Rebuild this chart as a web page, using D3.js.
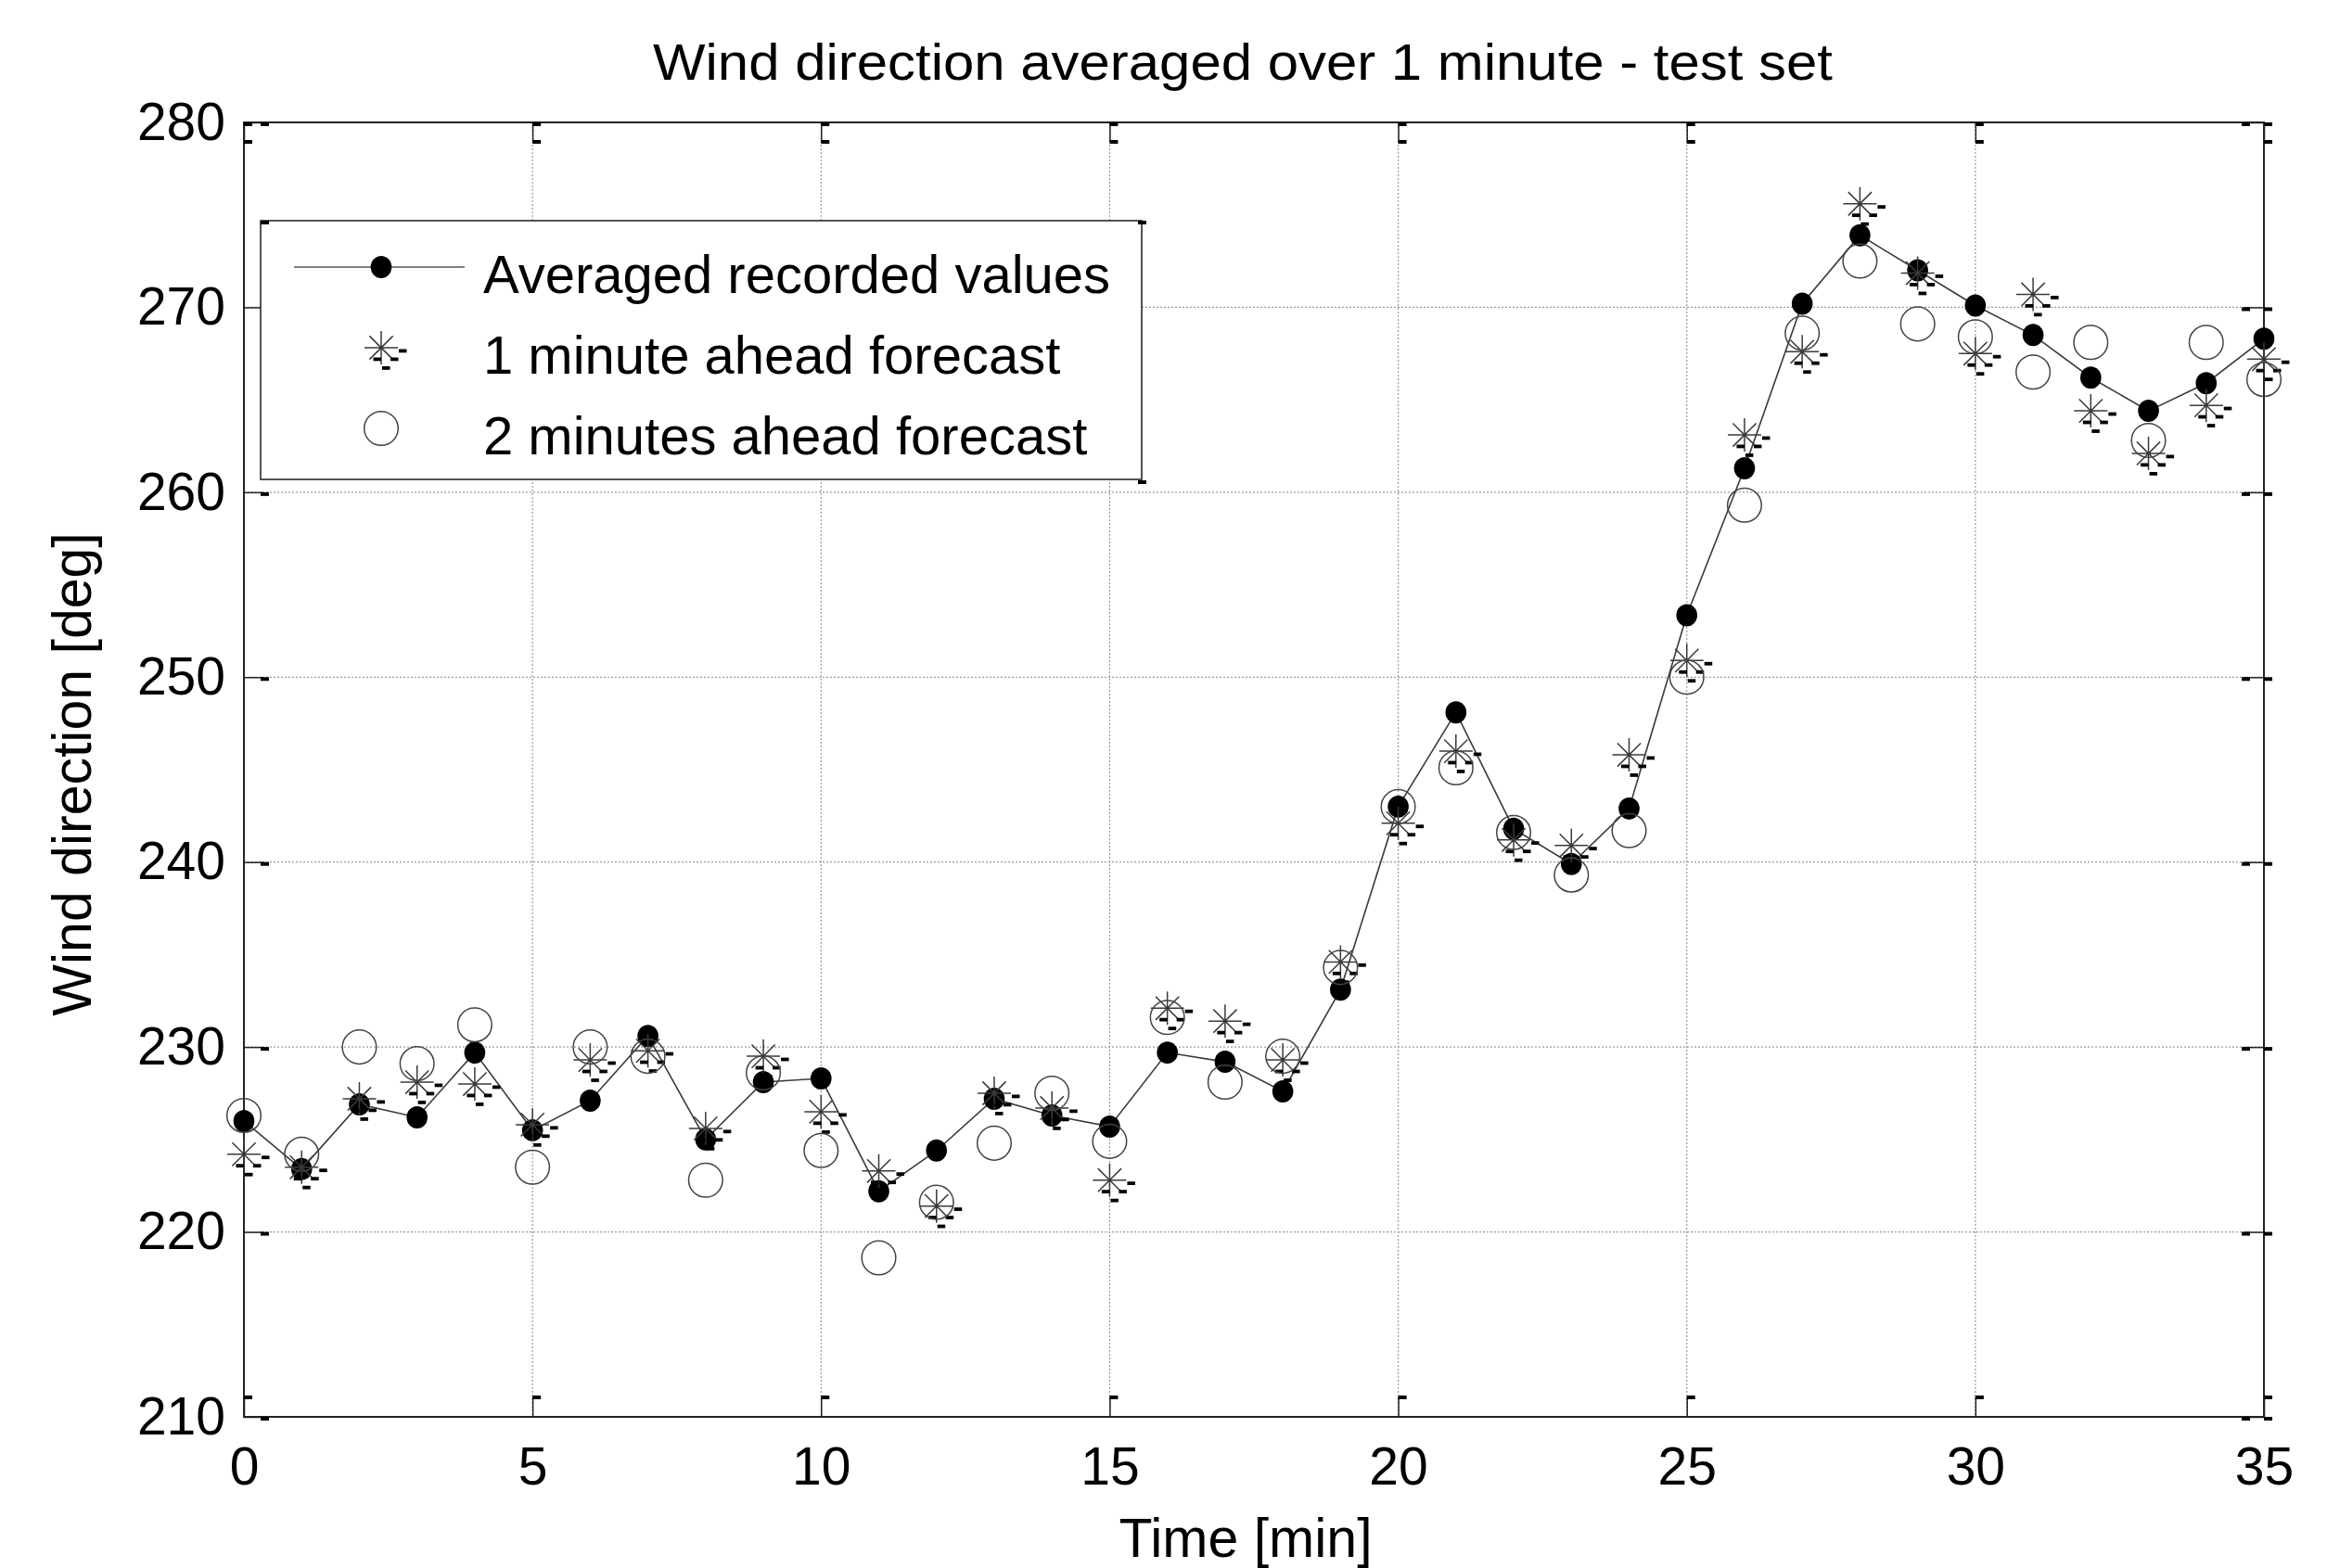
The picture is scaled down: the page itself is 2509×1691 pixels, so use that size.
<!DOCTYPE html>
<html><head><meta charset="utf-8">
<script src="https://cdn.jsdelivr.net/npm/d3@7"></script>
<style>
body{margin:0;background:#fff;}
svg{display:block;}
text{font-family:"Liberation Sans",Arial,sans-serif;fill:#000;}
</style>
</head><body>
<svg id="chart" width="2509" height="1691"></svg>
<script>
// ---------- data ----------
const timeMin = [0,1,2,3,4,5,6,7,8,9,10,11,12,13,14,15,16,17,18,19,20,21,22,23,24,25,26,27,28,29,30,31,32,33,34,35];
const averagedRecorded = [226.0,223.4,226.9,226.2,229.7,225.5,227.1,230.6,225.0,228.1,228.3,222.2,224.4,227.2,226.3,225.7,229.7,229.2,227.6,233.1,243.0,248.1,241.8,239.9,242.9,253.35,261.3,270.2,273.9,272.0,270.1,268.5,266.2,264.4,265.9,268.3];
const ahead1min = [224.2,223.5,227.2,228.1,228.0,225.8,229.3,229.8,225.6,229.5,226.5,223.3,221.4,227.5,226.7,222.8,232.1,231.4,229.3,234.6,242.1,246.0,241.2,240.9,245.8,250.9,263.1,267.6,275.6,271.85,267.5,270.7,264.4,262.1,264.7,267.2];
const ahead2min = [226.3,224.2,230.0,229.1,231.2,223.5,230.0,229.5,222.8,228.6,224.4,218.6,221.6,224.8,227.5,224.9,231.6,228.1,229.5,234.3,243.0,245.1,241.6,239.3,241.7,250.0,259.3,268.6,272.5,269.1,268.4,266.5,268.1,262.8,268.1,266.1];
const xTicks = [0,5,10,15,20,25,30,35];
const yTicks = [210,220,230,240,250,260,270,280];
const seriesNames = ["Averaged recorded values","1 minute ahead forecast","2 minutes ahead forecast"];
const titleText = "Wind direction averaged over 1 minute - test set";
const xLabel = "Time [min]";
const yLabel = "Wind direction [deg]";

// ---------- layout ----------
const L = 263, R = 2441, T = 132, B = 1528;
const svg = d3.select("#chart");
const x = d3.scaleLinear().domain([0,35]).range([L,R]);
const y = d3.scaleLinear().domain([210,280]).range([B,T]);
const tickLen = 21;

// grid
const grid = svg.append("g").attr("stroke","#9a9a9a").attr("stroke-width",1.2).attr("stroke-dasharray","2,2");
grid.selectAll("line.gx").data(xTicks.slice(1,-1)).join("line")
  .attr("x1",d=>x(d)).attr("x2",d=>x(d)).attr("y1",T).attr("y2",B);
grid.selectAll("line.gy").data(yTicks.slice(1,-1)).join("line")
  .attr("y1",d=>y(d)).attr("y2",d=>y(d)).attr("x1",L).attr("x2",R);

// axes via d3.axis
const fontTick = 57;
const gx = svg.append("g").attr("transform",`translate(0,${B})`)
  .call(d3.axisBottom(x).tickValues(xTicks).tickSizeInner(-tickLen).tickSizeOuter(0).tickPadding(33).tickFormat(d3.format("d")));
const gy = svg.append("g").attr("transform",`translate(${L},0)`)
  .call(d3.axisLeft(y).tickValues(yTicks).tickSizeInner(-tickLen).tickSizeOuter(0).tickPadding(20).tickFormat(d3.format("d")));
const gxt = svg.append("g").attr("transform",`translate(0,${T})`)
  .call(d3.axisTop(x).tickValues(xTicks).tickSizeInner(-tickLen).tickSizeOuter(0).tickFormat(""));
const gyr = svg.append("g").attr("transform",`translate(${R},0)`)
  .call(d3.axisRight(y).tickValues(yTicks).tickSizeInner(-tickLen).tickSizeOuter(0).tickFormat(""));
[gx,gy,gxt,gyr].forEach(g=>{
  g.select(".domain").remove();
  g.selectAll(".tick line").attr("stroke","#222").attr("stroke-width",1.5);
  g.selectAll(".tick text").attr("font-size",fontTick).attr("font-family","Liberation Sans, Arial, sans-serif").attr("fill","#000");
});

// box
svg.append("rect").attr("x",L).attr("y",T).attr("width",R-L).attr("height",B-T)
  .attr("fill","none").attr("stroke","#222").attr("stroke-width",2);

// tick end dashes (rendering artefacts of the original)
const dashes = [];
xTicks.forEach(v=>{
  dashes.push([x(v), B-tickLen-2]);
  dashes.push([x(v), T]);
  dashes.push([x(v), T+tickLen-2]);
});
yTicks.forEach(v=>{
  dashes.push([L+tickLen-3, y(v)]);
  dashes.push([R, y(v)]);
  dashes.push([R-tickLen-3, y(v)]);
});
svg.append("g").selectAll("rect").data(dashes).join("rect")
  .attr("x",d=>d[0]).attr("y",d=>d[1]).attr("width",9).attr("height",4).attr("fill","#000");

// ---------- series ----------
const lineGen = d3.line().x((d,i)=>x(timeMin[i])).y(d=>y(d));
svg.append("path").datum(averagedRecorded).attr("d",lineGen)
  .attr("fill","none").attr("stroke","#3a3a3a").attr("stroke-width",1.6);

function drawDot(g,cx,cy){
  g.append("ellipse").attr("cx",cx).attr("cy",cy).attr("rx",11.3).attr("ry",12).attr("fill","#000");
}
function drawStar(g,cx,cy){
  const r = 18, d = r*0.7;
  g.append("path").attr("d",
    `M${cx-r},${cy}L${cx+r},${cy}M${cx},${cy-r}L${cx},${cy+r}` +
    `M${cx-d},${cy-d}L${cx+d},${cy+d}M${cx-d},${cy+d}L${cx+d},${cy-d}`)
    .attr("stroke","#3a3a3a").attr("stroke-width",1.5).attr("fill","none");
  [[19,1.5],[-8.5,10.5],[10,10.5],[1,20]].forEach(o=>{
    g.append("rect").attr("x",cx+o[0]).attr("y",cy+o[1]).attr("width",8.5).attr("height",3.8).attr("fill","#000");
  });
}
function drawCircle(g,cx,cy){
  g.append("circle").attr("cx",cx).attr("cy",cy).attr("r",18.3)
    .attr("fill","none").attr("stroke","#444").attr("stroke-width",1.5);
}

const gDots = svg.append("g");
averagedRecorded.forEach((v,i)=>drawDot(gDots,x(timeMin[i]),y(v)));
const gStars = svg.append("g");
ahead1min.forEach((v,i)=>drawStar(gStars,x(timeMin[i]),y(v)));
const gCirc = svg.append("g");
ahead2min.forEach((v,i)=>drawCircle(gCirc,x(timeMin[i]),y(v)));

// ---------- legend ----------
const lg = svg.append("g");
lg.append("rect").attr("x",281).attr("y",238).attr("width",950).attr("height",279)
  .attr("fill","#fff").attr("stroke","#2a2a2a").attr("stroke-width",1.6);
[[281,238],[1227,238],[1227,518]].forEach(p=>{
  lg.append("rect").attr("x",p[0]).attr("y",p[1]).attr("width",9).attr("height",4).attr("fill","#000");
});
const rowY = [288, 375, 462];
lg.append("line").attr("x1",317).attr("x2",501).attr("y1",rowY[0]).attr("y2",rowY[0])
  .attr("stroke","#555").attr("stroke-width",1.6);
drawDot(lg,411,rowY[0]);
drawStar(lg,411,rowY[1]);
drawCircle(lg,411,rowY[2]);
lg.selectAll("text").data(seriesNames).join("text")
  .attr("x",521).attr("y",(d,i)=>rowY[i]+28)
  .attr("font-size",58).text(d=>d);

// ---------- titles ----------
svg.append("text").attr("x",1340).attr("y",86).attr("text-anchor","middle")
  .attr("font-size",55).attr("textLength",1272).attr("lengthAdjust","spacingAndGlyphs").text(titleText);
svg.append("text").attr("x",1343).attr("y",1679).attr("text-anchor","middle")
  .attr("font-size",59).text(xLabel);
svg.append("text").attr("transform","translate(98,835) rotate(-90)").attr("text-anchor","middle")
  .attr("font-size",59).text(yLabel);
</script>
</body></html>
